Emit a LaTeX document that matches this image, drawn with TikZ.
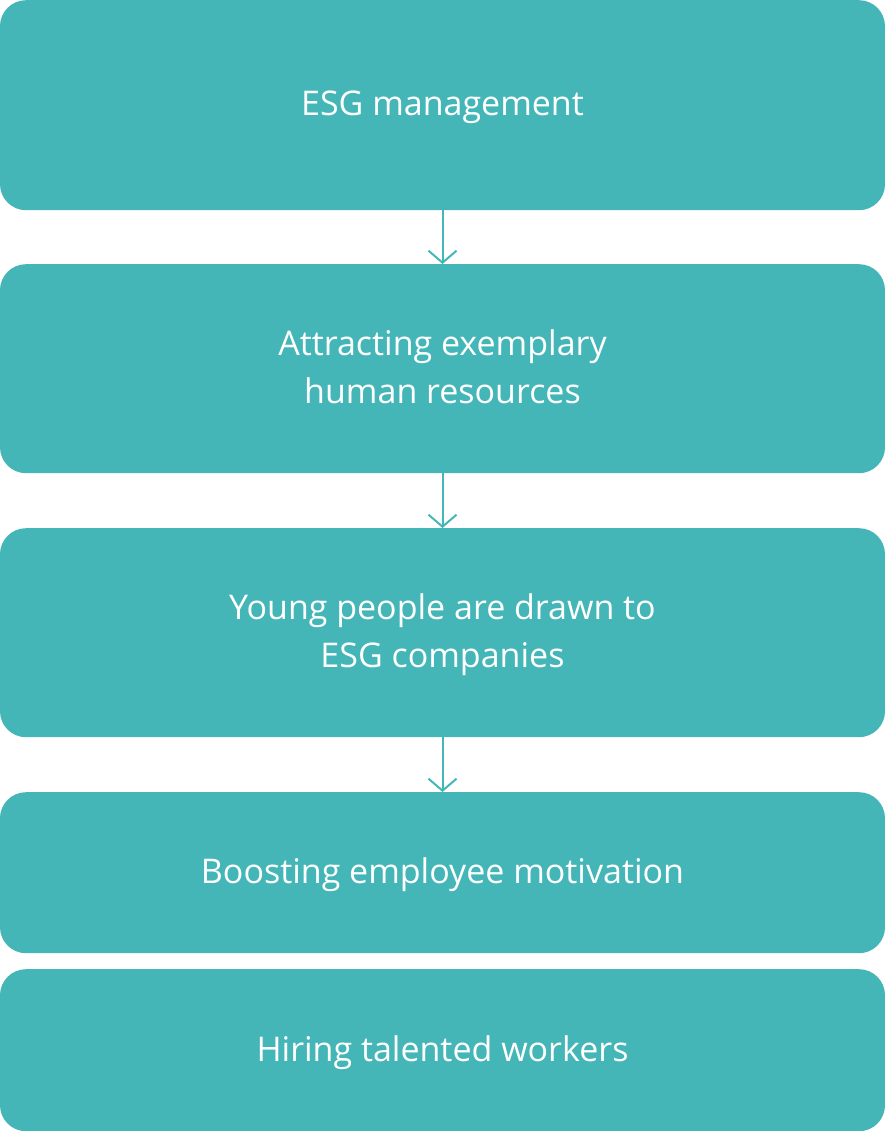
\documentclass[tikz,border=0pt]{standalone}
\usepackage{fontspec}
\setmainfont{Open Sans}
\usetikzlibrary{arrows.meta}
\definecolor{teal1}{HTML}{44B6B7}
\begin{document}
\begin{tikzpicture}[x=1pt,y=-1pt,
  box/.style={fill=teal1,rounded corners=26pt,minimum width=885pt,inner sep=0pt,text=white,align=center,font=\fontsize{34}{48}\selectfont,text depth=4pt},
  conn/.style={draw=teal1,line width=2pt,-{Straight Barb[length=12pt,width=28pt,line width=2pt]}}]
\useasboundingbox (0,0) rectangle (885,1131);
\node[box,minimum height=210pt,anchor=north] (a) at (442.5,0) {ESG management};
\node[box,minimum height=209pt,anchor=north] (b) at (442.5,264) {Attracting exemplary\\human resources};
\node[box,minimum height=209pt,anchor=north] (c) at (442.5,528) {Young people are drawn to\\ESG companies};
\node[box,minimum height=161pt,anchor=north] (d) at (442.5,792) {Boosting employee motivation};
\node[box,minimum height=162pt,anchor=north] (e) at (442.5,969) {Hiring talented workers};
\draw[conn] (a.south) -- (b.north);
\draw[conn] (b.south) -- (c.north);
\draw[conn] (c.south) -- (d.north);
\end{tikzpicture}
\end{document}
